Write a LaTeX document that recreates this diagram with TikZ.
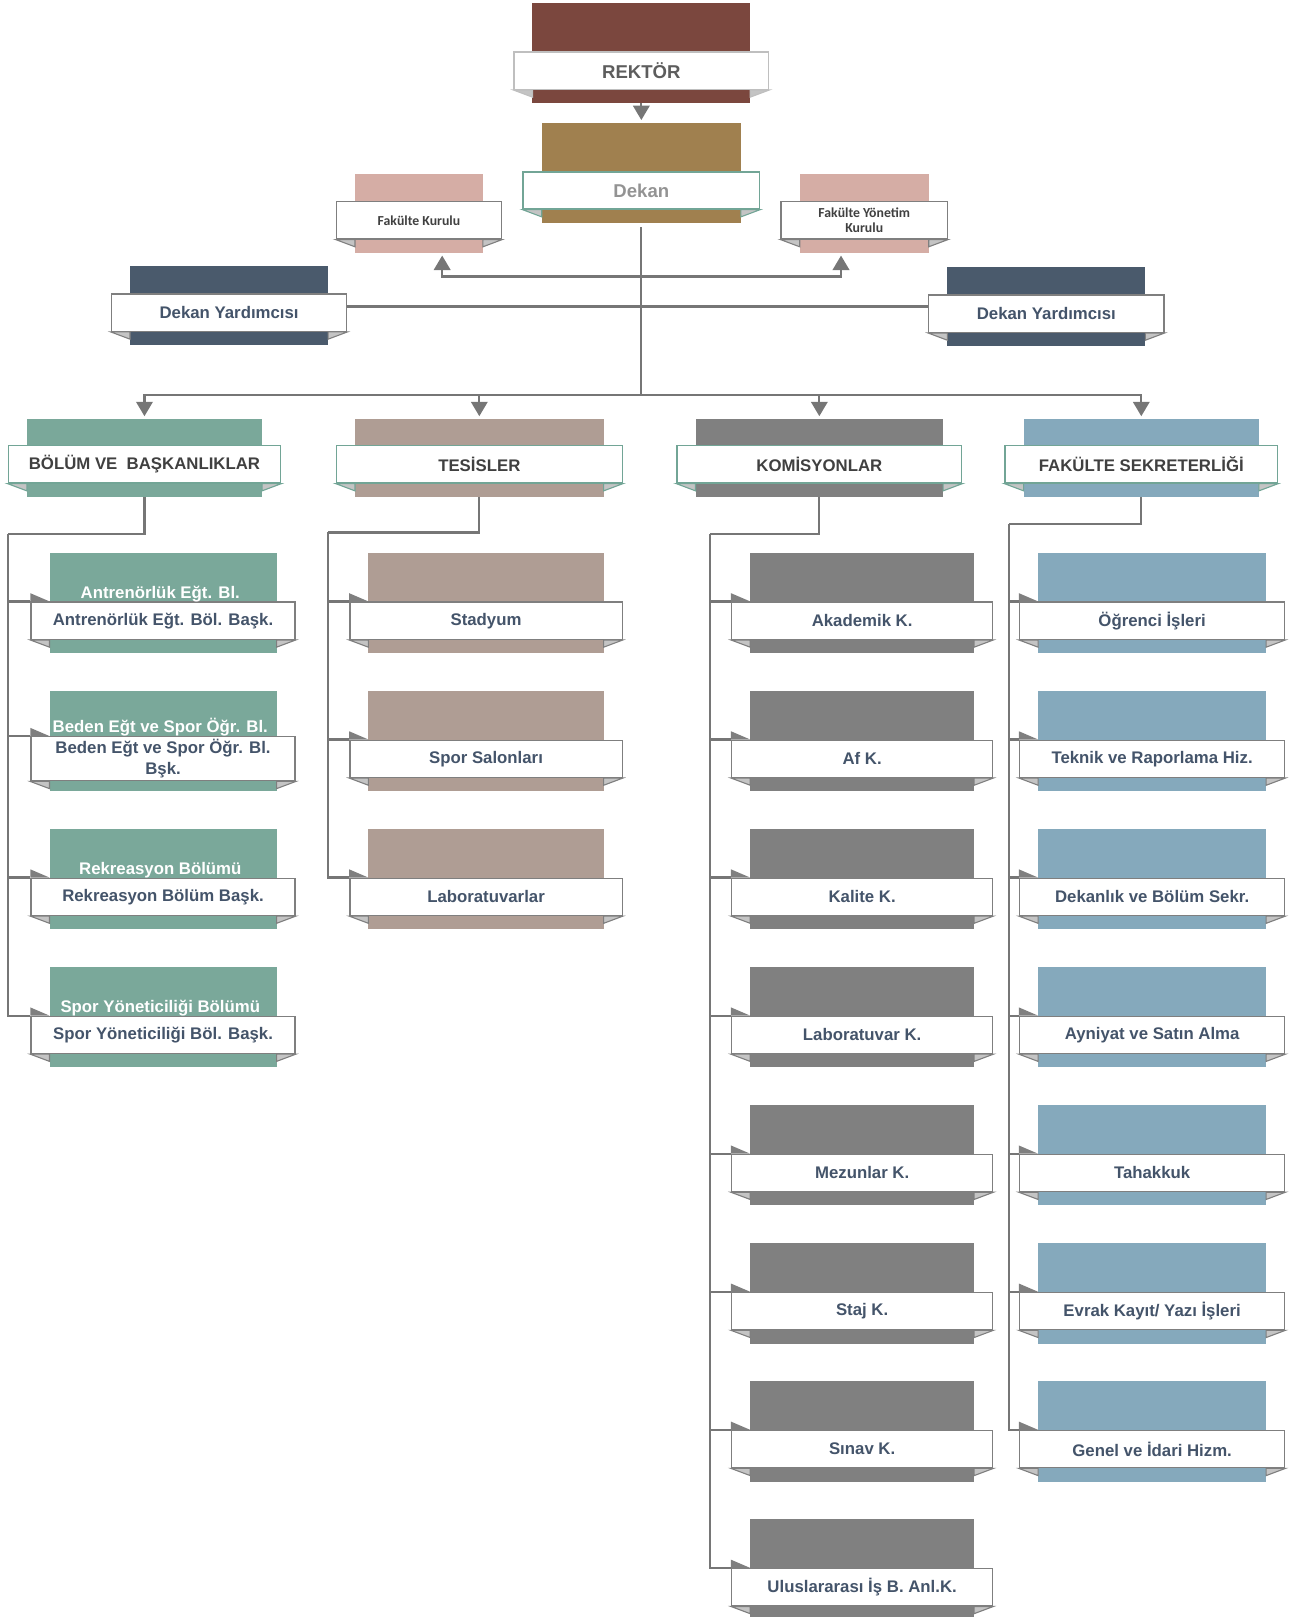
\documentclass[tikz,border=0pt]{standalone}
\usepackage{fontspec}
\setmainfont{Liberation Sans}
\newfontfamily\kurulfont{Carlito}
\usetikzlibrary{arrows.meta, calc, positioning}

\definecolor{rektorred}{HTML}{7B473E}
\definecolor{dekanbrown}{HTML}{A0804F}
\definecolor{kurulpink}{HTML}{D5ADA5}
\definecolor{yardslate}{HTML}{4A5A6C}
\definecolor{bolumgreen}{HTML}{7AA89A}
\definecolor{tesistaupe}{HTML}{AF9D94}
\definecolor{komisgray}{HTML}{808080}
\definecolor{sekrblue}{HTML}{85A9BC}
\definecolor{linkgray}{HTML}{767676}
\definecolor{tealline}{HTML}{72A596}
\definecolor{lightline}{HTML}{BFBFBF}
\definecolor{boxline}{HTML}{7F7F7F}
\definecolor{foldgray}{HTML}{C4C4C4}
\definecolor{slatetext}{HTML}{44546A}
\definecolor{headtext}{HTML}{404040}

\tikzstyle{banner} = [rectangle, fill=white, line width=1pt, inner sep=2pt, minimum height=27pt, text centered, align=center]
\tikzstyle{backrect} = [rectangle, inner sep=0pt, outer sep=0pt]
\tikzstyle{link} = [draw=linkgray, line width=1.6pt]
\tikzstyle{arrow} = [link, -{Triangle[width=12pt,length=10.5pt]}, shorten >=2pt]
\tikzstyle{toptext} = [font=\bfseries\fontsize{13.5}{16}\selectfont]
\tikzstyle{kurultext} = [font=\kurulfont\bfseries\fontsize{10}{10.5}\selectfont, text=headtext]
\tikzstyle{headlabel} = [font=\bfseries\fontsize{12.2}{15}\selectfont, text=headtext]
\tikzstyle{itemlabel} = [font=\bfseries\fontsize{12.2}{15}\selectfont, text=slatetext]
\tikzstyle{whitelabel} = [font=\bfseries\fontsize{12.2}{15}\selectfont, text=white, inner sep=0.5pt]

% kutu: isim, merkez, bant genisligi, ust pay, dolgu, cizgi, yazi stili, metin
\newcommand{\orgbox}[8]{%
  \node[backrect, fill=#5, minimum width=(#3-36)*0.75pt, minimum height=(#4+31.5)*0.75pt, anchor=north] (#1r) at ($(#2)+(0,-#4)$) {};
  \node[banner, draw=#6, minimum width=#3*0.75pt, #7] (#1) at (#2) {#8};
  \filldraw[fill=foldgray, draw=#6, line width=0.8pt] (#1.south west) -- ($(#1r.west |- #1.south)+(0,7)$) -- (#1r.west |- #1.south) -- cycle;
  \filldraw[fill=foldgray, draw=#6, line width=0.8pt] (#1.south east) -- ($(#1r.east |- #1.south)+(0,7)$) -- (#1r.east |- #1.south) -- cycle;
}
% alt kutu: sol ust kose katlamasi ile
\newcommand{\itembox}[6]{%
  \orgbox{#1}{#2}{#3}{66}{#4}{boxline}{itemlabel, #5}{#6}
  \fill[boxline] (#1.north west) -- ($(#1.north west)+(0,-8)$) -- (#1r.west |- #1.north) -- cycle;
}

\begin{document}
\begin{tikzpicture}[x=0.75pt, y=-0.75pt]
    \useasboundingbox (0,0) rectangle (1250,1567);

    % Üst kademe
    \orgbox{rektor}{621.5,68.5}{247}{65.5}{rektorred}{lightline}{toptext, text=headtext!85}{REKTÖR}
    \orgbox{dekan}{621.5,184.5}{229}{65.5}{dekanbrown}{tealline}{toptext, text=gray!85}{Dekan}
    \orgbox{kurul1}{406,213.5}{160}{44.5}{kurulpink}{boxline}{kurultext}{Fakülte Kurulu}
    \orgbox{kurul2}{837.5,213.5}{161}{44.5}{kurulpink}{boxline}{kurultext}{Fakülte Yönetim\\Kurulu}
    \orgbox{yard1}{222,303}{228}{45}{yardslate}{boxline}{itemlabel}{Dekan Yardımcısı}
    \orgbox{yard2}{1014,304}{228}{45}{yardslate}{boxline}{itemlabel}{Dekan Yardımcısı}

    % Birimler
    \orgbox{bolum}{140,450}{264}{44}{bolumgreen}{tealline}{headlabel}{BÖLÜM VE~~BAŞKANLIKLAR}
    \orgbox{tesis}{464.5,450}{277}{44}{tesistaupe}{tealline}{headlabel}{TESİSLER}
    \orgbox{komis}{794,450}{276}{44}{komisgray}{tealline}{headlabel}{KOMİSYONLAR}
    \orgbox{sekr}{1106,450}{264}{44}{sekrblue}{tealline}{headlabel}{FAKÜLTE SEKRETERLİĞİ}

    % Bölümler
    \itembox{bol1}{158,601.5}{256}{bolumgreen}{}{Antrenörlük Eğt. Böl. Başk.}
    \itembox{bol2}{158,735.3}{256}{bolumgreen}{}{Beden Eğt ve Spor Öğr. Bl.\\Bşk.}
    \itembox{bol3}{158,869.1}{256}{bolumgreen}{}{Rekreasyon Bölüm Başk.}
    \itembox{bol4}{158,1002.9}{256}{bolumgreen}{}{Spor Yöneticiliği Böl. Başk.}
    \node[whitelabel, above=0pt of bol1, xshift=-2pt, yshift=-1pt] (bol1w) {Antrenörlük Eğt. Bl.};
    \node[whitelabel, above=0pt of bol2, xshift=-2pt, yshift=-1pt] (bol2w) {Beden Eğt ve Spor Öğr. Bl.};
    \node[whitelabel, above=0pt of bol3, xshift=-2pt, yshift=-1pt] (bol3w) {Rekreasyon Bölümü};
    \node[whitelabel, above=0pt of bol4, xshift=-2pt, yshift=-1pt] (bol4w) {Spor Yöneticiliği Bölümü};

    % Tesisler
    \itembox{tes1}{471,601.5}{264}{tesistaupe}{}{Stadyum}
    \itembox{tes2}{471,735.3}{264}{tesistaupe}{}{Spor Salonları}
    \itembox{tes3}{471,869.1}{264}{tesistaupe}{}{Laboratuvarlar}

    % Komisyonlar
    \itembox{kom1}{835.5,601.5}{253}{komisgray}{}{Akademik K.}
    \itembox{kom2}{835.5,735.3}{253}{komisgray}{}{Af K.}
    \itembox{kom3}{835.5,869.1}{253}{komisgray}{}{Kalite K.}
    \itembox{kom4}{835.5,1002.9}{253}{komisgray}{}{Laboratuvar K.}
    \itembox{kom5}{835.5,1136.7}{253}{komisgray}{}{Mezunlar K.}
    \itembox{kom6}{835.5,1270.5}{253}{komisgray}{}{Staj K.}
    \itembox{kom7}{835.5,1404.3}{253}{komisgray}{}{Sınav K.}
    \itembox{kom8}{835.5,1538.1}{253}{komisgray}{}{Uluslararası İş B. Anl.K.}

    % Sekreterlik
    \itembox{sek1}{1116.5,601.5}{257}{sekrblue}{}{Öğrenci İşleri}
    \itembox{sek2}{1116.5,735.3}{257}{sekrblue}{}{Teknik ve Raporlama Hiz.}
    \itembox{sek3}{1116.5,869.1}{257}{sekrblue}{}{Dekanlık ve Bölüm Sekr.}
    \itembox{sek4}{1116.5,1002.9}{257}{sekrblue}{}{Ayniyat ve Satın Alma}
    \itembox{sek5}{1116.5,1136.7}{257}{sekrblue}{}{Tahakkuk}
    \itembox{sek6}{1116.5,1270.5}{257}{sekrblue}{}{Evrak Kayıt/ Yazı İşleri}
    \itembox{sek7}{1116.5,1404.3}{257}{sekrblue}{}{Genel ve İdari Hizm.}

    % Bağlantı noktaları
    \coordinate (kurulhub) at (621.5,268);
    \coordinate (yardhub) at (621.5,297);
    \coordinate (hub) at (621.5,382.5);
    \coordinate (bolbus) at (8,517.5);
    \coordinate (tesbus) at (318,516);
    \coordinate (kombus) at (688,517.5);
    \coordinate (sekbus) at (978,508);

    % Oklar
    \draw [arrow] (rektorr.south) -- (dekanr.north);
    \draw [link, shorten <=3pt] (dekanr.south) -- (hub);
    \draw [arrow] (kurulhub) -| ($(kurul1r.south)+(22.5,0)$);
    \draw [arrow] (kurulhub) -| ($(kurul2r.south)+(-22.5,0)$);
    \draw [link] (yard1.east |- yardhub) -- (yard2.west |- yardhub);
    \draw [arrow] (hub) -| (bolumr.north);
    \draw [arrow] (hub) -| (tesisr.north);
    \draw [arrow] (hub) -| (komisr.north);
    \draw [arrow] (hub) -| (sekrr.north);

    \draw [link] (bolumr.south) |- (bolbus);
    \draw [link] (bolbus) |- (bol1.north west);
    \draw [link] (bolbus) |- (bol2.north west);
    \draw [link] (bolbus) |- (bol3.north west);
    \draw [link] (bolbus) |- (bol4.north west);

    \draw [link] (tesisr.south) |- (tesbus);
    \draw [link] (tesbus) |- (tes1.north west);
    \draw [link] (tesbus) |- (tes2.north west);
    \draw [link] (tesbus) |- (tes3.north west);

    \draw [link] (komisr.south) |- (kombus);
    \draw [link] (kombus) |- (kom1.north west);
    \draw [link] (kombus) |- (kom2.north west);
    \draw [link] (kombus) |- (kom3.north west);
    \draw [link] (kombus) |- (kom4.north west);
    \draw [link] (kombus) |- (kom5.north west);
    \draw [link] (kombus) |- (kom6.north west);
    \draw [link] (kombus) |- (kom7.north west);
    \draw [link] (kombus) |- (kom8.north west);

    \draw [link] (sekrr.south) |- (sekbus);
    \draw [link] (sekbus) |- (sek1.north west);
    \draw [link] (sekbus) |- (sek2.north west);
    \draw [link] (sekbus) |- (sek3.north west);
    \draw [link] (sekbus) |- (sek4.north west);
    \draw [link] (sekbus) |- (sek5.north west);
    \draw [link] (sekbus) |- (sek6.north west);
    \draw [link] (sekbus) |- (sek7.north west);

\end{tikzpicture}
\end{document}
